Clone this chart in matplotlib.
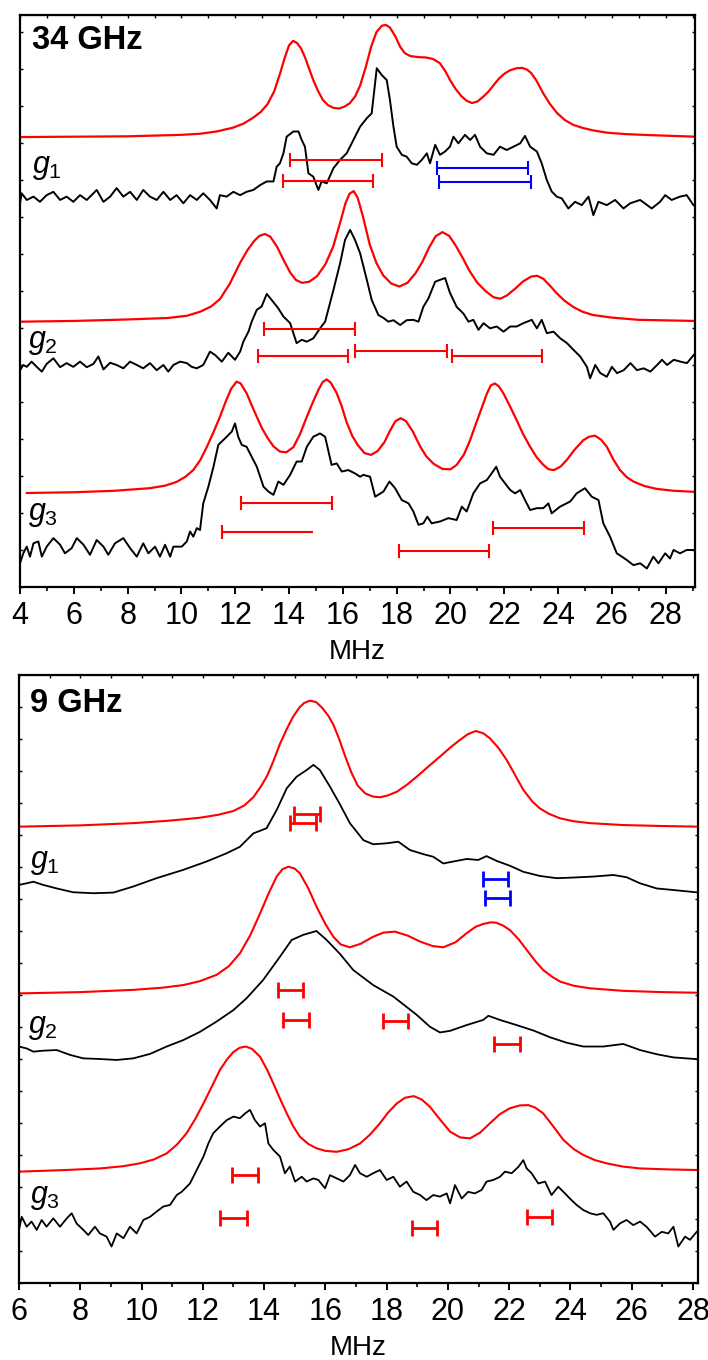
import numpy as np
import matplotlib
matplotlib.use('Agg')
import matplotlib.pyplot as plt

plt.rcParams['font.family'] = ['Liberation Sans', 'DejaVu Sans']
plt.rcParams['mathtext.fontset'] = 'custom'
plt.rcParams['mathtext.it'] = 'Liberation Sans:italic'
plt.rcParams['mathtext.rm'] = 'Liberation Sans'

RED = '#ff0000'
BLUE = '#0000ff'

# ---------------- 34 GHz (MHz, offset intensity) ----------------
sim34_g1 = np.array([
    (4.0, 12.16), (6.0, 12.17), (8.0, 12.18), (9.0, 12.20), (10.0, 12.22), (10.7, 12.25),
    (11.3, 12.31), (11.9, 12.41), (12.3, 12.52), (12.66, 12.68), (12.95, 12.84), (13.2, 13.05),
    (13.45, 13.40), (13.67, 13.89), (13.85, 14.33), (14.0, 14.64), (14.15, 14.76), (14.3, 14.70),
    (14.45, 14.55), (14.6, 14.30), (14.75, 14.00), (14.9, 13.70), (15.08, 13.40), (15.26, 13.16),
    (15.45, 13.02), (15.65, 12.95), (15.85, 12.93), (16.05, 12.98), (16.25, 13.07), (16.45, 13.25),
    (16.64, 13.55), (16.85, 14.05), (17.05, 14.60), (17.25, 15.00), (17.45, 15.17), (17.6, 15.19),
    (17.75, 15.12), (17.95, 14.88), (18.13, 14.60), (18.3, 14.43), (18.5, 14.35), (18.8, 14.32),
    (19.1, 14.31), (19.35, 14.27), (19.6, 14.16), (19.8, 13.95), (20.0, 13.68), (20.2, 13.45),
    (20.4, 13.27), (20.6, 13.14), (20.8, 13.08), (21.0, 13.12), (21.2, 13.24), (21.4, 13.38),
    (21.6, 13.56), (21.8, 13.74), (22.0, 13.87), (22.2, 13.96), (22.45, 14.02), (22.66, 14.03),
    (22.85, 13.98), (23.0, 13.89), (23.2, 13.68), (23.44, 13.35), (23.7, 13.05), (23.96, 12.81),
    (24.25, 12.62), (24.56, 12.49), (24.9, 12.41), (25.3, 12.34), (25.8, 12.28), (26.5, 12.24),
    (27.5, 12.21), (29.1, 12.17)])

exp34_g1 = np.array([
    (4.00, 10.37), (4.06, 10.64), (4.25, 10.46), (4.50, 10.55), (4.74, 10.41), (4.99, 10.59),
    (5.24, 10.68), (5.49, 10.46), (5.73, 10.55), (5.98, 10.41), (6.23, 10.59), (6.48, 10.46),
    (6.85, 10.73), (7.10, 10.41), (7.35, 10.55), (7.59, 10.78), (7.84, 10.55), (8.09, 10.68),
    (8.34, 10.46), (8.58, 10.73), (8.83, 10.55), (9.08, 10.46), (9.33, 10.68), (9.58, 10.46),
    (9.82, 10.59), (10.07, 10.37), (10.32, 10.59), (10.57, 10.46), (10.81, 10.64), (11.06, 10.46),
    (11.31, 10.23), (11.43, 10.59), (11.68, 10.55), (11.93, 10.68), (12.18, 10.59), (12.42, 10.68),
    (12.67, 10.73), (12.92, 10.86), (13.17, 10.96), (13.42, 10.96), (13.54, 11.36), (13.66, 11.45),
    (13.79, 11.72), (13.91, 12.17), (14.16, 12.31), (14.35, 12.31), (14.47, 12.08), (14.59, 11.90),
    (14.72, 11.18), (14.90, 11.09), (15.09, 10.73), (15.21, 10.96), (15.40, 10.91), (15.65, 11.32),
    (15.89, 11.54), (16.14, 11.72), (16.39, 12.08), (16.64, 12.44), (16.89, 12.67), (17.07, 12.80),
    (17.26, 14.02), (17.44, 13.84), (17.63, 13.70), (17.75, 13.16), (17.88, 12.44), (18.00, 11.90),
    (18.19, 11.68), (18.37, 11.63), (18.56, 11.45), (18.75, 11.41), (18.93, 11.54), (19.12, 11.72),
    (19.24, 11.45), (19.43, 11.95), (19.61, 11.68), (19.80, 11.77), (19.98, 11.90), (20.11, 12.17),
    (20.29, 11.99), (20.54, 12.22), (20.73, 12.08), (20.91, 12.22), (21.10, 11.90), (21.35, 11.72),
    (21.60, 11.68), (21.84, 11.90), (22.09, 11.81), (22.34, 11.90), (22.59, 11.99), (22.77, 12.19),
    (22.96, 11.90), (23.21, 11.77), (23.39, 11.45), (23.58, 11.00), (23.76, 10.69), (23.95, 10.55),
    (24.14, 10.50), (24.38, 10.23), (24.63, 10.41), (24.88, 10.32), (25.13, 10.55), (25.31, 10.05),
    (25.50, 10.41), (25.81, 10.32), (26.12, 10.46), (26.43, 10.23), (26.68, 10.37), (27.05, 10.46),
    (27.48, 10.23), (27.79, 10.41), (27.98, 10.59), (28.22, 10.46), (28.53, 10.55), (28.78, 10.59),
    (29.03, 10.32)])

sim34_g2 = np.array([
    (4.0, 7.17), (6.0, 7.19), (8.0, 7.23), (9.5, 7.27), (10.2, 7.33), (10.7, 7.44),
    (11.1, 7.58), (11.43, 7.78), (11.8, 8.20), (12.18, 8.76), (12.45, 9.10), (12.7, 9.35),
    (12.9, 9.49), (13.1, 9.54), (13.3, 9.47), (13.55, 9.20), (13.8, 8.83), (14.04, 8.50),
    (14.25, 8.30), (14.48, 8.22), (14.75, 8.25), (15.04, 8.40), (15.35, 8.72), (15.64, 9.20),
    (15.9, 9.85), (16.1, 10.38), (16.25, 10.63), (16.4, 10.70), (16.55, 10.52), (16.75, 10.00),
    (17.0, 9.25), (17.25, 8.75), (17.5, 8.42), (17.8, 8.20), (18.1, 8.12), (18.4, 8.22),
    (18.7, 8.48), (18.95, 8.78), (19.2, 9.17), (19.45, 9.48), (19.7, 9.59), (19.95, 9.49),
    (20.2, 9.22), (20.45, 8.90), (20.7, 8.55), (21.0, 8.22), (21.3, 8.00), (21.6, 7.83),
    (21.85, 7.79), (22.1, 7.88), (22.4, 8.06), (22.7, 8.26), (23.0, 8.39), (23.22, 8.41),
    (23.45, 8.33), (23.7, 8.14), (23.96, 7.93), (24.25, 7.73), (24.56, 7.57), (24.9, 7.44),
    (25.3, 7.35), (26.0, 7.28), (27.0, 7.22), (29.1, 7.19)])

exp34_g2 = np.array([
    (4.00, 5.86), (4.12, 6.00), (4.25, 5.95), (4.43, 6.09), (4.62, 5.95), (4.81, 5.82),
    (4.99, 6.03), (5.24, 6.18), (5.49, 5.94), (5.73, 6.05), (5.98, 5.95), (6.23, 6.09),
    (6.48, 5.94), (6.73, 6.03), (6.91, 6.23), (7.10, 5.88), (7.35, 6.06), (7.59, 6.00),
    (7.84, 5.91), (8.09, 6.09), (8.34, 6.00), (8.58, 5.91), (8.83, 6.05), (9.08, 5.86),
    (9.33, 6.00), (9.51, 5.82), (9.70, 6.00), (9.95, 6.09), (10.20, 6.05), (10.38, 5.95),
    (10.57, 5.91), (10.81, 6.00), (11.06, 6.36), (11.25, 6.27), (11.50, 6.09), (11.74, 6.33),
    (11.99, 6.14), (12.18, 6.36), (12.30, 6.63), (12.49, 6.90), (12.61, 7.17), (12.80, 7.49),
    (12.98, 7.58), (13.17, 7.92), (13.35, 7.76), (13.60, 7.53), (13.79, 7.31), (14.04, 7.13),
    (14.28, 6.59), (14.47, 6.68), (14.66, 6.63), (14.90, 6.72), (15.15, 6.99), (15.34, 7.17),
    (15.52, 7.67), (15.65, 8.03), (15.90, 8.76), (16.08, 9.38), (16.27, 9.65), (16.45, 9.38),
    (16.64, 9.02), (16.89, 8.30), (17.07, 7.76), (17.32, 7.35), (17.51, 7.27), (17.69, 7.17),
    (17.88, 7.21), (18.13, 7.08), (18.37, 7.21), (18.62, 7.22), (18.81, 7.17), (18.99, 7.57),
    (19.18, 7.80), (19.43, 8.25), (19.61, 8.30), (19.80, 8.35), (19.98, 7.95), (20.23, 7.57),
    (20.48, 7.39), (20.67, 7.17), (20.85, 7.22), (21.04, 6.95), (21.23, 7.13), (21.47, 6.99),
    (21.72, 7.04), (21.97, 6.90), (22.22, 7.04), (22.46, 7.04), (22.71, 7.13), (23.02, 7.22),
    (23.21, 6.99), (23.39, 7.22), (23.58, 6.86), (23.83, 6.90), (24.08, 6.72), (24.33, 6.59),
    (24.57, 6.41), (24.82, 6.23), (25.07, 5.95), (25.19, 5.64), (25.38, 6.00), (25.57, 5.78),
    (25.81, 5.68), (26.00, 5.95), (26.19, 5.78), (26.44, 5.86), (26.69, 6.05), (26.93, 5.86),
    (27.18, 5.91), (27.43, 5.82), (27.68, 6.00), (27.86, 6.14), (28.05, 6.00), (28.30, 6.14),
    (28.55, 6.09), (28.79, 6.05), (29.04, 6.27)])

sim34_g3 = np.array([
    (4.25, 2.54), (6.0, 2.56), (7.5, 2.60), (8.83, 2.67), (9.4, 2.74), (9.82, 2.84),
    (10.15, 2.98), (10.44, 3.16), (10.7, 3.43), (10.94, 3.78), (11.2, 4.20), (11.43, 4.60),
    (11.65, 5.02), (11.85, 5.36), (12.05, 5.55), (12.2, 5.50), (12.42, 5.24), (12.6, 4.93),
    (12.8, 4.60), (13.0, 4.28), (13.2, 4.03), (13.42, 3.80), (13.66, 3.66), (13.9, 3.64),
    (14.16, 3.78), (14.4, 4.12), (14.66, 4.60), (14.9, 5.02), (15.1, 5.34), (15.25, 5.54),
    (15.4, 5.61), (15.55, 5.52), (15.77, 5.24), (15.95, 4.90), (16.14, 4.45), (16.35, 4.08),
    (16.55, 3.84), (16.8, 3.62), (17.05, 3.57), (17.3, 3.68), (17.55, 3.92), (17.75, 4.22),
    (17.95, 4.48), (18.15, 4.56), (18.35, 4.48), (18.6, 4.20), (18.87, 3.80), (19.1, 3.53),
    (19.37, 3.33), (19.7, 3.19), (20.0, 3.18), (20.23, 3.30), (20.5, 3.58), (20.73, 3.97),
    (20.95, 4.42), (21.15, 4.82), (21.35, 5.22), (21.5, 5.45), (21.65, 5.50), (21.8, 5.42),
    (21.97, 5.23), (22.2, 4.90), (22.46, 4.51), (22.7, 4.13), (22.96, 3.79), (23.2, 3.51),
    (23.45, 3.30), (23.65, 3.18), (23.85, 3.16), (24.1, 3.26), (24.32, 3.43), (24.6, 3.70),
    (24.94, 3.97), (25.15, 4.06), (25.37, 4.09), (25.6, 3.98), (25.81, 3.79), (26.05, 3.45),
    (26.3, 3.16), (26.55, 2.97), (26.8, 2.85), (27.2, 2.73), (27.67, 2.65), (28.3, 2.60),
    (29.09, 2.57)])

exp34_g3 = np.array([
    (4.00, 0.64), (4.12, 0.91), (4.25, 1.09), (4.37, 0.82), (4.50, 1.18), (4.68, 1.23),
    (4.81, 0.82), (4.99, 1.09), (5.24, 1.32), (5.49, 1.14), (5.67, 0.91), (5.92, 1.05),
    (6.11, 1.32), (6.36, 1.14), (6.60, 0.87), (6.85, 1.27), (7.10, 1.09), (7.28, 0.87),
    (7.53, 1.18), (7.84, 1.32), (8.09, 1.05), (8.34, 0.82), (8.58, 1.18), (8.77, 0.91),
    (9.02, 1.09), (9.20, 0.82), (9.39, 1.14), (9.58, 0.82), (9.70, 1.09), (10.01, 1.09),
    (10.20, 1.23), (10.32, 1.50), (10.44, 1.36), (10.57, 1.59), (10.69, 1.54), (10.81, 2.26),
    (11.00, 2.71), (11.19, 3.25), (11.37, 3.84), (11.68, 4.06), (11.87, 4.20), (11.99, 4.42),
    (12.11, 4.06), (12.24, 3.84), (12.42, 3.79), (12.61, 3.52), (12.80, 3.25), (13.05, 2.71),
    (13.23, 2.58), (13.42, 2.49), (13.60, 2.85), (13.79, 2.76), (14.04, 3.03), (14.28, 3.39),
    (14.47, 3.39), (14.66, 3.79), (14.90, 4.06), (15.15, 4.15), (15.34, 4.06), (15.58, 3.30),
    (15.77, 3.34), (15.96, 3.12), (16.20, 3.16), (16.45, 3.07), (16.64, 2.98), (16.76, 3.03),
    (17.01, 2.98), (17.20, 2.44), (17.51, 2.58), (17.73, 2.85), (17.94, 2.67), (18.19, 2.35),
    (18.44, 2.26), (18.62, 2.04), (18.81, 1.68), (18.99, 1.72), (19.14, 1.90), (19.30, 1.72),
    (19.61, 1.77), (19.92, 1.86), (20.23, 1.81), (20.42, 2.17), (20.60, 2.04), (20.85, 2.53),
    (21.10, 2.80), (21.35, 2.89), (21.53, 3.07), (21.70, 3.25), (21.84, 2.98), (22.03, 2.80),
    (22.22, 2.62), (22.40, 2.53), (22.59, 2.62), (22.77, 2.35), (22.96, 2.08), (23.21, 2.13),
    (23.45, 2.13), (23.64, 2.26), (23.76, 1.99), (24.07, 2.17), (24.45, 2.31), (24.69, 2.53),
    (25.00, 2.67), (25.25, 2.44), (25.50, 2.35), (25.68, 1.72), (25.93, 1.36), (26.18, 0.91),
    (26.37, 0.82), (26.55, 0.73), (26.80, 0.59), (27.05, 0.64), (27.30, 0.50), (27.54, 0.82),
    (27.73, 0.64), (27.98, 0.91), (28.16, 0.77), (28.29, 1.00), (28.53, 0.91), (28.78, 1.00),
    (29.03, 1.00)])

# coupling bars: (start MHz, end MHz, level)
red_bars34 = [(14.04, 17.46, 11.54), (13.78, 17.13, 10.97),
              (13.07, 16.45, 6.97), (12.85, 16.20, 6.24), (16.45, 19.87, 6.38), (20.06, 23.40, 6.24),
              (12.20, 15.61, 2.26), (21.57, 24.97, 1.59), (18.08, 21.44, 0.97)]
open_bars34 = [(11.50, 14.90, 1.49)]
blue_bars34 = [(19.50, 22.88, 11.33), (19.58, 22.99, 10.94)]

# ---------------- 9 GHz ----------------
sim9_g1 = np.array([
    (6.0, 14.26), (8.0, 14.30), (9.73, 14.37), (10.8, 14.44), (11.5, 14.50), (11.91, 14.54),
    (12.5, 14.63), (13.0, 14.75), (13.35, 14.92), (13.65, 15.18), (13.9, 15.52), (14.1, 15.85),
    (14.3, 16.30), (14.52, 16.85), (14.75, 17.33), (14.95, 17.70), (15.15, 17.98), (15.3, 18.12),
    (15.5, 18.20), (15.7, 18.15), (15.9, 17.97), (16.1, 17.72), (16.26, 17.45), (16.45, 17.00),
    (16.65, 16.45), (16.85, 15.95), (17.05, 15.55), (17.3, 15.30), (17.55, 15.20), (17.8, 15.18),
    (18.05, 15.24), (18.33, 15.35), (18.65, 15.56), (18.98, 15.82), (19.35, 16.13), (19.74, 16.45),
    (20.1, 16.75), (20.39, 16.97), (20.65, 17.15), (20.91, 17.25), (21.15, 17.18), (21.37, 17.02),
    (21.65, 16.72), (21.92, 16.34), (22.2, 15.86), (22.46, 15.41), (22.75, 15.05), (23.0, 14.83),
    (23.3, 14.66), (23.66, 14.52), (24.1, 14.43), (24.63, 14.37), (25.72, 14.31), (27.0, 14.28),
    (28.2, 14.26)])

exp9_g1 = np.array([
    (6.0, 12.44), (6.25, 12.49), (6.47, 12.54), (6.79, 12.44), (7.23, 12.33), (7.77, 12.21),
    (8.43, 12.18), (9.08, 12.20), (9.73, 12.39), (10.49, 12.65), (11.36, 12.91), (12.12, 13.17),
    (12.78, 13.43), (13.21, 13.63), (13.65, 14.05), (14.08, 14.21), (14.41, 14.78), (14.74, 15.46),
    (15.06, 15.82), (15.39, 16.03), (15.61, 16.19), (15.82, 16.03), (16.15, 15.51), (16.48, 14.95),
    (16.80, 14.37), (17.24, 13.84), (17.56, 13.71), (18.0, 13.74), (18.38, 13.79), (18.76, 13.53),
    (19.20, 13.40), (19.52, 13.32), (19.85, 13.11), (20.17, 13.17), (20.61, 13.25), (20.99, 13.22),
    (21.26, 13.34), (21.59, 13.19), (22.02, 13.04), (22.46, 12.85), (23.0, 12.72), (23.55, 12.65),
    (24.09, 12.67), (24.74, 12.70), (25.40, 12.75), (25.83, 12.68), (26.27, 12.49), (26.81, 12.33),
    (27.36, 12.28), (28.2, 12.20)])

sim9_g2 = np.array([
    (6.0, 9.05), (8.0, 9.09), (9.73, 9.16), (10.7, 9.23), (11.36, 9.31), (11.9, 9.43),
    (12.45, 9.63), (12.85, 9.90), (13.21, 10.30), (13.55, 10.87), (13.87, 11.55), (14.15, 12.18),
    (14.41, 12.70), (14.6, 12.93), (14.79, 13.01), (15.0, 12.95), (15.17, 12.80), (15.45, 12.32),
    (15.71, 11.76), (16.0, 11.22), (16.26, 10.82), (16.5, 10.58), (16.8, 10.49), (17.15, 10.60),
    (17.56, 10.82), (17.9, 10.95), (18.27, 10.98), (18.7, 10.85), (19.09, 10.67), (19.5, 10.53),
    (19.85, 10.49), (20.25, 10.65), (20.61, 10.93), (20.9, 11.13), (21.15, 11.22), (21.4, 11.27),
    (21.57, 11.26), (21.8, 11.17), (22.02, 11.03), (22.3, 10.75), (22.57, 10.41), (22.85, 10.06),
    (23.11, 9.78), (23.4, 9.57), (23.66, 9.42), (24.1, 9.29), (24.63, 9.21), (25.72, 9.13),
    (27.0, 9.09), (28.2, 9.07)])

exp9_g2 = np.array([
    (6.0, 7.39), (6.25, 7.33), (6.47, 7.23), (6.79, 7.26), (7.23, 7.28), (7.66, 7.13),
    (8.10, 7.02), (8.64, 7.00), (9.19, 6.97), (9.73, 7.02), (10.28, 7.16), (10.82, 7.39),
    (11.36, 7.59), (11.91, 7.85), (12.45, 8.17), (13.0, 8.53), (13.43, 8.90), (13.97, 9.47),
    (14.52, 10.20), (14.90, 10.72), (15.28, 10.88), (15.71, 11.00), (16.04, 10.72), (16.48, 10.28),
    (16.91, 9.78), (17.56, 9.31), (18.22, 8.95), (18.98, 8.38), (19.41, 8.01), (19.74, 7.83),
    (20.07, 7.88), (20.61, 8.06), (21.15, 8.22), (21.32, 8.35), (21.70, 8.22), (22.24, 8.06),
    (22.79, 7.89), (23.33, 7.68), (23.87, 7.51), (24.42, 7.39), (25.07, 7.39), (25.72, 7.47),
    (26.27, 7.28), (26.81, 7.15), (27.36, 7.05), (28.2, 6.99)])

sim9_g3 = np.array([
    (6.0, 3.48), (7.5, 3.53), (8.64, 3.58), (9.4, 3.65), (9.95, 3.74), (10.4, 3.86),
    (10.82, 4.05), (11.15, 4.32), (11.47, 4.68), (11.75, 5.12), (12.02, 5.61), (12.3, 6.15),
    (12.56, 6.66), (12.8, 7.00), (13.0, 7.22), (13.2, 7.35), (13.40, 7.39), (13.6, 7.32),
    (13.87, 7.07), (14.1, 6.66), (14.30, 6.24), (14.5, 5.80), (14.74, 5.30), (14.95, 4.90),
    (15.17, 4.57), (15.45, 4.34), (15.71, 4.21), (16.0, 4.13), (16.37, 4.10), (16.75, 4.18),
    (17.13, 4.36), (17.45, 4.63), (17.78, 4.99), (18.05, 5.33), (18.33, 5.61), (18.6, 5.79),
    (18.89, 5.84), (19.15, 5.73), (19.41, 5.51), (19.75, 5.10), (20.07, 4.73), (20.4, 4.55),
    (20.72, 4.52), (21.05, 4.70), (21.37, 4.99), (21.7, 5.28), (22.02, 5.46), (22.35, 5.55),
    (22.62, 5.56), (22.85, 5.48), (23.11, 5.30), (23.45, 4.88), (23.77, 4.47), (24.1, 4.19),
    (24.42, 4.00), (24.8, 3.84), (25.18, 3.74), (25.7, 3.64), (26.27, 3.58), (27.2, 3.55),
    (28.2, 3.53)])

exp9_g3 = np.array([
    (6.0, 1.66), (6.09, 2.07), (6.25, 1.76), (6.41, 1.92), (6.58, 1.66), (6.74, 1.97),
    (6.90, 1.76), (7.12, 2.02), (7.34, 1.76), (7.56, 2.02), (7.72, 2.18), (7.88, 1.86),
    (8.10, 1.66), (8.26, 1.50), (8.48, 1.76), (8.64, 1.55), (8.86, 1.45), (9.02, 1.14),
    (9.19, 1.55), (9.41, 1.40), (9.62, 1.76), (9.84, 1.55), (10.06, 1.97), (10.28, 2.07),
    (10.49, 2.23), (10.71, 2.39), (10.93, 2.44), (11.15, 2.75), (11.31, 2.85), (11.58, 3.11),
    (11.80, 3.53), (12.02, 3.95), (12.18, 4.36), (12.34, 4.68), (12.56, 4.89), (12.78, 5.09),
    (13.00, 5.20), (13.21, 5.15), (13.38, 5.30), (13.54, 5.41), (13.70, 5.09), (13.87, 4.89),
    (14.03, 4.99), (14.14, 4.36), (14.30, 4.16), (14.52, 3.95), (14.68, 3.43), (14.84, 3.64),
    (15.01, 3.17), (15.23, 3.32), (15.39, 3.17), (15.61, 3.27), (15.77, 3.22), (15.99, 2.96),
    (16.15, 3.37), (16.37, 3.27), (16.59, 3.17), (16.80, 3.37), (16.97, 3.69), (17.13, 3.43),
    (17.35, 3.32), (17.56, 3.43), (17.78, 3.53), (18.00, 3.22), (18.22, 3.32), (18.43, 3.01),
    (18.65, 3.17), (18.87, 2.85), (19.09, 2.75), (19.30, 2.59), (19.52, 2.75), (19.74, 2.70),
    (19.96, 2.80), (20.07, 2.49), (20.23, 3.06), (20.45, 2.64), (20.66, 2.85), (20.88, 2.80),
    (21.10, 2.91), (21.26, 3.17), (21.48, 3.22), (21.70, 3.32), (21.86, 3.48), (22.08, 3.43),
    (22.30, 3.63), (22.46, 3.84), (22.57, 3.58), (22.73, 3.43), (22.95, 3.11), (23.17, 3.17),
    (23.38, 2.75), (23.60, 3.01), (23.82, 2.80), (23.98, 2.64), (24.20, 2.44), (24.42, 2.28),
    (24.64, 2.18), (24.85, 2.13), (25.07, 2.18), (25.29, 1.92), (25.40, 1.66), (25.61, 1.86),
    (25.83, 1.97), (26.05, 1.81), (26.27, 1.92), (26.48, 1.76), (26.76, 1.45), (26.98, 1.60),
    (27.19, 1.55), (27.36, 1.76), (27.52, 1.14), (27.74, 1.45), (27.90, 1.35), (28.12, 1.60)])

red_bars9 = [(14.97, 15.81, 14.65), (14.86, 15.70, 14.37),
             (14.46, 15.28, 9.16), (14.61, 15.48, 8.22), (17.89, 18.71, 8.20), (21.51, 22.35, 7.46),
             (12.96, 13.79, 3.37), (12.56, 13.43, 2.02), (18.82, 19.65, 1.73), (22.57, 23.41, 2.07)]
blue_bars9 = [(21.13, 21.95, 12.63), (21.21, 22.02, 12.02)]

labels = [r'$g_1$', r'$g_2$', r'$g_3$']
label_pos34 = [(4.45, 11.19), (4.30, 6.46), (4.30, 1.81)]
label_pos9 = [(6.36, 12.97), (6.29, 7.81), (6.36, 2.50)]


def draw_bars(ax, bars, color, lw, cap, both=True):
    for x0, x1, y in bars:
        ax.plot([x0, x1], [y, y], color=color, lw=lw, solid_capstyle='butt')
        ends = [x0, x1] if both else [x0]
        ax.plot(ends, [y] * len(ends), ls='none', marker='|', ms=cap, mew=lw, color=color)


def style_axis(ax, xlim, ylim, xmajor):
    ax.set_xlim(*xlim)
    ax.set_ylim(*ylim)
    ax.set_xticks(xmajor)
    ax.set_xticks(np.arange(xlim[0], xlim[1], 1), minor=True)
    ax.set_yticks(np.arange(0, ylim[1], 1))
    ax.set_yticklabels([])
    for s in ax.spines.values():
        s.set_linewidth(1.6)
    ax.tick_params(axis='x', which='major', direction='out', length=5, width=1.4,
                   labelsize=22, pad=5)
    ax.tick_params(axis='x', which='minor', direction='out', length=3, width=1.2)
    ax.tick_params(axis='y', which='major', direction='in', length=2, width=1.0,
                   left=True, right=True)
    top = ax.secondary_xaxis('top')
    top.set_xticks(xmajor)
    top.set_xticks(np.arange(xlim[0], xlim[1], 1), minor=True)
    top.tick_params(which='both', direction='in', length=2, width=1.0, labeltop=False)
    ax.set_xlabel('MHz', fontsize=20, labelpad=6)


fig = plt.figure(figsize=(7.08, 13.6), dpi=100)

# top panel: 34 GHz
ax1 = fig.add_axes([0.0283, 0.5684, 0.9534, 0.4206])
for sim, exp in [(sim34_g1, exp34_g1), (sim34_g2, exp34_g2), (sim34_g3, exp34_g3)]:
    ax1.plot(sim[:, 0], sim[:, 1], color=RED, lw=1.6)
    ax1.plot(exp[:, 0], exp[:, 1], color='black', lw=1.4)
draw_bars(ax1, red_bars34, RED, 1.5, 9.5)
draw_bars(ax1, open_bars34, RED, 1.5, 9.5, both=False)
draw_bars(ax1, blue_bars34, BLUE, 1.5, 9.5)
for lab, (x, y) in zip(labels, label_pos34):
    ax1.text(x, y, lab, fontsize=22, va='baseline', ha='left')
ax1.text(4.45, 15.2, '34 GHz', fontsize=23.5, fontweight='bold', va='top', ha='left')
style_axis(ax1, (4, 29.09), (0, 15.46), np.arange(4, 29, 2))

# bottom panel: 9 GHz
ax2 = fig.add_axes([0.0268, 0.0566, 0.9590, 0.4471])
for sim, exp in [(sim9_g1, exp9_g1), (sim9_g2, exp9_g2), (sim9_g3, exp9_g3)]:
    ax2.plot(sim[:, 0], sim[:, 1], color=RED, lw=1.5)
    ax2.plot(exp[:, 0], exp[:, 1], color='black', lw=1.3)
draw_bars(ax2, red_bars9, RED, 2.0, 12)
draw_bars(ax2, blue_bars9, BLUE, 2.0, 12)
for lab, (x, y) in zip(labels, label_pos9):
    ax2.text(x, y, lab, fontsize=22, va='baseline', ha='left')
ax2.text(6.36, 18.6, '9 GHz', fontsize=23.5, fontweight='bold', va='top', ha='left')
style_axis(ax2, (6, 28.16), (0, 19.0), np.arange(6, 29, 2))

fig.savefig('out.png', dpi=100)
